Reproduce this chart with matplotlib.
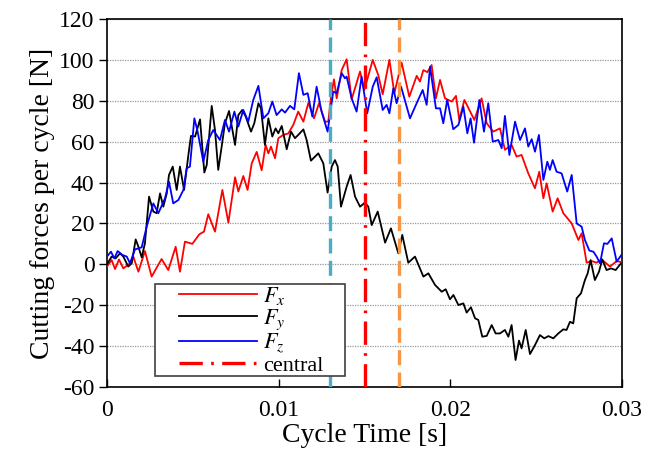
import matplotlib
matplotlib.use("Agg")
import matplotlib.pyplot as plt
from matplotlib.patches import Rectangle
import numpy as np

plt.rcParams['font.family'] = ['Liberation Serif', 'DejaVu Serif']
plt.rcParams['mathtext.fontset'] = 'stix'
plt.rcParams['axes.unicode_minus'] = False

# ---- data (time in ms, force in N) ----
t_fx_ms = [0, 0.27, 0.47, 0.7, 0.95, 1.34, 1.53, 1.83, 2.21, 2.6, 3.18, 3.57, 4.0, 4.25, 4.54, 4.97,
           5.38, 5.65, 5.9, 6.29, 6.72, 7.07, 7.46, 7.65, 7.94, 8.19, 8.43, 8.72, 9.01, 9.24, 9.4, 9.55,
           9.79, 9.98, 10.27, 10.56, 10.85, 11.14, 11.44, 11.73, 12.06, 12.35, 12.7, 12.89, 13.05, 13.22,
           13.38, 13.67, 13.96, 14.25, 14.74, 14.99, 15.48, 15.8, 16.06, 16.45, 16.74, 17.16, 17.61, 18.04,
           18.23, 18.43, 18.66, 18.91, 19.16, 19.4, 19.69, 20.08, 20.33, 20.52, 20.82, 21.4, 21.82, 22.12,
           22.5, 22.89, 23.18, 23.57, 23.86, 24.15, 24.54, 24.93, 25.18, 25.42, 25.61, 25.96, 26.25, 26.58,
           27.07, 27.46, 27.65, 27.94, 28.23, 28.52, 28.81, 29.3, 29.69, 30.0]
fx = [-1.1, 2.1, -2.3, 2.4, -2.0, 0.5, 3.8, -3.6, 6.5, -6.0, 2.6, -2.8, 8.6, -3.6, 11.1, 10.0,
      14.7, 16.0, 24.5, 16.0, 36.4, 20.4, 42.6, 35.6, 43.2, 36.4, 49.4, 55.0, 46.0, 58.4, 54.3, 57.6,
      51.9, 61.7, 63.3, 64.0, 68.2, 74.7, 69.8, 79.0, 71.4, 78.8, 69.8, 69.8, 82.0, 90.5,
      81.2, 95.0, 100.3, 80.7, 94.3, 85.3, 100.0, 92.6, 83.2, 100.0, 83.7, 98.7, 82.0, 92.2,
      89.4, 95.0, 94.0, 97.5, 81.2, 90.2, 81.2, 79.6, 82.4, 70.6, 80.4, 70.6, 81.2, 69.0,
      64.9, 66.5, 56.0, 58.4, 52.7, 53.5, 44.5, 37.2, 45.3, 32.3, 39.6, 25.8, 32.3, 25.0,
      20.0, 11.9, 15.2, 0.8, 1.6, 0.8, 2.4, -1.1, 1.6, 1.0]

t_fy_ms = [0, 0.27, 0.5, 0.76, 0.95, 1.24, 1.44, 1.67, 1.83, 2.02, 2.21, 2.45, 2.7, 2.89, 3.09, 3.28,
           3.48, 3.61, 3.83, 4.06, 4.25, 4.49, 4.74, 4.89, 5.13, 5.42, 5.67, 5.81, 6.1, 6.29, 6.48, 6.68,
           6.87, 7.11, 7.46, 7.65, 7.88, 8.08, 8.39, 8.58, 8.82, 8.97, 9.2, 9.4, 9.63, 9.82, 9.98, 10.18,
           10.47, 10.72, 10.95, 11.14, 11.44, 11.63, 11.88, 12.31, 12.6, 12.85, 13.09, 13.28, 13.44, 13.63,
           13.96, 14.19, 14.45, 14.74, 15.03, 15.22, 15.42, 15.77, 16.2, 16.54, 16.97, 17.2, 17.55, 17.94,
           18.43, 18.72, 19.11, 19.5, 19.73, 19.98, 20.18, 20.47, 20.76, 20.95, 21.2, 21.44, 21.63, 21.86,
           22.12, 22.41, 22.64, 22.89, 23.18, 23.38, 23.57, 23.8, 24.0, 24.15, 24.39, 24.64, 24.93, 25.22,
           25.47, 25.71, 26.0, 26.29, 26.58, 26.77, 26.97, 27.16, 27.36, 27.61, 27.84, 28.0, 28.17, 28.42,
           28.66, 28.85, 29.1, 29.36, 29.63, 29.94]
fy = [0.0, 3.8, 2.9, 5.4, 3.8, -1.1, 0.5, 12.2, 8.6, 3.4, 10.3, 33.1, 25.8, 25.0, 34.7, 28.2,
      34.7, 43.7, 47.8, 36.4, 47.8, 36.4, 53.5, 62.8, 62.5, 70.9, 44.9, 48.6, 77.5, 65.7, 46.2, 57.6,
      69.0, 75.0, 58.4, 73.0, 75.5, 72.3, 64.9, 69.0, 78.8, 76.3, 58.4, 71.4, 62.5, 66.5, 64.1, 67.7,
      56.3, 64.9, 61.7, 63.3, 66.0, 60.8, 50.7, 54.3, 49.4, 35.1, 47.8, 51.0, 47.8, 28.2,
      38.0, 43.7, 33.1, 28.2, 30.2, 28.2, 19.2, 25.8, 10.6, 17.6, 5.4, 14.4, 0.8, 3.8,
      -6.0, -4.4, -10.1, -13.4, -12.2, -17.1, -15.0, -19.9, -19.1, -23.6, -21.0, -26.4, -27.2, -35.4,
      -35.0, -29.7, -33.8, -33.8, -32.1, -35.4, -29.7, -46.8, -37.3, -41.1, -32.1, -43.9, -39.5, -34.6,
      -36.2, -35.1, -36.2, -33.8, -31.8, -32.1, -28.1, -28.9, -16.6, -14.2, -7.7, -4.4, 2.1, -7.7,
      -3.6, 2.4, -2.8, -2.0, -2.8, 0.5]

t_fz_ms = [0, 0.23, 0.43, 0.62, 0.89, 1.15, 1.34, 1.63, 2.02, 2.31, 2.7, 2.99, 3.38, 3.61, 3.86, 4.16,
           4.45, 4.64, 4.83, 5.09, 5.28, 5.61, 5.9, 6.19, 6.58, 6.87, 7.11, 7.42, 7.65, 7.94, 8.23, 8.52,
           8.82, 9.11, 9.4, 9.63, 9.88, 10.18, 10.37, 10.66, 10.91, 11.18, 11.44, 11.69, 11.96, 12.21,
           12.5, 12.85, 13.18, 13.38, 13.67, 13.86, 13.96, 14.25, 14.54, 14.83, 15.16, 15.48, 15.71, 16.06,
           16.29, 16.45, 16.68, 16.87, 17.13, 17.65, 18.08, 18.39, 18.62, 18.82, 19.16, 19.4, 19.59, 19.82,
           20.17, 20.47, 20.76, 20.99, 21.18, 21.38, 21.69, 21.96, 22.21, 22.47, 22.8, 22.99, 23.18, 23.44,
           23.77, 24.06, 24.35, 24.54, 24.74, 24.93, 25.16, 25.42, 25.65, 25.8, 25.96, 26.19, 26.48, 26.81,
           27.07, 27.36, 27.65, 27.84, 28.1, 28.33, 28.52, 28.72, 28.95, 29.15, 29.4, 29.69, 30.0]
fz = [3.8, 6.2, 2.9, 6.5, 4.6, 3.8, 0.5, 7.3, 8.3, 18.4, 29.8, 25.0, 32.3, 40.4, 29.8, 31.5,
      36.4, 47.0, 47.8, 71.4, 64.9, 50.2, 60.8, 65.7, 60.8, 70.6, 64.9, 74.7, 67.4, 75.5, 69.8, 80.4,
      87.3, 71.4, 73.9, 79.6, 73.0, 75.8, 74.2, 77.5, 75.8, 93.5, 82.9, 83.7, 72.3, 86.9,
      74.7, 64.9, 84.5, 83.7, 93.5, 91.0, 91.8, 81.2, 74.7, 91.8, 73.9, 86.9, 91.5, 75.5,
      78.0, 73.9, 86.1, 78.8, 86.9, 71.4, 79.6, 85.3, 78.0, 96.7, 76.3, 76.3, 69.0, 80.4,
      66.1, 68.2, 77.1, 64.1, 71.4, 59.5, 80.4, 64.9, 78.8, 60.0, 60.8, 56.8, 72.6, 53.5,
      69.8, 60.8, 66.5, 57.6, 61.2, 55.1, 63.3, 41.3, 50.2, 46.2, 51.0, 45.3, 44.5, 35.6,
      43.7, 20.0, 18.4, 11.9, 6.7, 6.2, 3.8, 0.5, 10.3, 10.0, 12.7, 1.3, 5.0]

marker_times = [0.013, 0.015, 0.017]
y_ticks = [-60, -40, -20, 0, 20, 40, 60, 80, 100, 120]
x_ticks = [0, 0.01, 0.02, 0.03]
x_tick_labels = ["0", "0.01", "0.02", "0.03"]

fig = plt.figure(figsize=(6.56, 4.61), dpi=100)
ax = fig.add_axes([107/656, 1 - 387/461, 515/656, 368/461])

to_s = lambda arr: np.asarray(arr) / 1000.0
ax.plot(to_s(t_fx_ms), fx, color='#FF0000', lw=1.3, label='$F_x$', zorder=3)
ax.plot(to_s(t_fy_ms), fy, color='#000000', lw=1.3, label='$F_y$', zorder=3)
ax.plot(to_s(t_fz_ms), fz, color='#0000FF', lw=1.3, label='$F_z$', zorder=3)

ax.axvline(marker_times[0], color='#4BACC6', lw=2.4, linestyle=(0, (4.5, 2.2)), zorder=4)
ax.axvline(marker_times[1], color='#FF0000', lw=2.4, linestyle=(0, (7, 2.5, 0.8, 2.5)), zorder=4,
           label='central')
ax.axvline(marker_times[2], color='#F79646', lw=2.4, linestyle=(0, (4.5, 2.2)), zorder=4)

ax.set_xlim(0, 0.03)
ax.set_ylim(-60, 120)
ax.set_yticks(y_ticks)
ax.set_xticks(x_ticks)
ax.set_xticklabels(x_tick_labels)
ax.yaxis.grid(True, linestyle=(0, (1, 1)), color='#999999', lw=0.9)
ax.set_axisbelow(True)
ax.tick_params(axis='y', direction='out', length=6, width=1, labelsize=17, pad=3)
ax.tick_params(axis='x', direction='in', length=6, width=1, labelsize=17, pad=9)
for s in ax.spines.values():
    s.set_linewidth(1.2)

ax.set_xlabel('Cycle Time [s]', fontsize=20, labelpad=2)
ax.set_ylabel('Cutting forces per cycle [N]', fontsize=20, labelpad=3)

# legend frame drawn as a box, legend entries inside
ax.add_patch(Rectangle(((155-107)/515, (387-376)/368), 190/515, 92/368,
                       transform=ax.transAxes, facecolor='white', edgecolor='#404040',
                       lw=1.2, zorder=5))
leg = ax.legend(loc='upper left', bbox_to_anchor=((179-107)/515, (387-285)/368),
                borderaxespad=0, borderpad=0, fontsize=16, handlelength=3.5, frameon=False,
                labelspacing=0.0, handletextpad=0.3)
leg.set_zorder(6)

fig.savefig('out.png', dpi=100)
